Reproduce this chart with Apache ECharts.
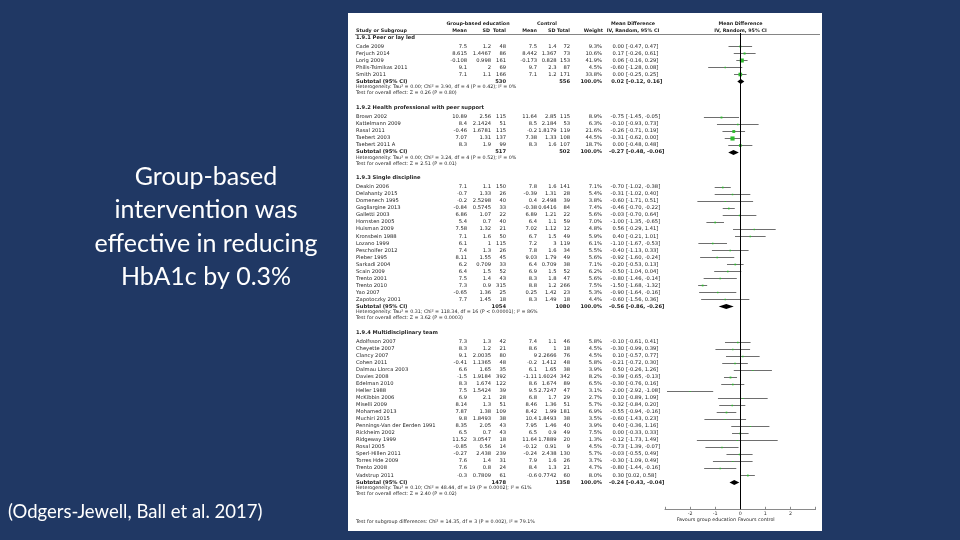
<!DOCTYPE html>
<html>
<head>
<meta charset="utf-8">
<script src="https://cdn.jsdelivr.net/npm/echarts/dist/echarts.min.js"></script>
<style>
html,body{margin:0;padding:0;background:#203864;}
#chart{width:960px;height:540px;}
</style>
</head>
<body>
<div id="chart"></div>
<script>
// ---------------- DATA ----------------
const groupTitles = [
  '1.9.1 Peer or lay led',
  '1.9.2 Health professional with peer support',
  '1.9.3 Single discipline',
  '1.9.4 Multidisciplinary team'
];
// columns: group mean, group SD, group total, control mean, control SD, control total, weight %, MD, CI low, CI high
const studies1 = ['Cade 2009', 'Ferjuch 2014', 'Lorig 2009', 'Philis-Tsimikas 2011', 'Smith 2011'];
const values1 = [
  [7.5, 1.2, 48, 7.5, 1.4, 72, 9.3, 0.00, -0.47, 0.47],
  [8.615, 1.4467, 86, 8.442, 1.367, 73, 10.6, 0.17, -0.26, 0.61],
  [-0.108, 0.998, 161, -0.173, 0.828, 153, 41.9, 0.06, -0.16, 0.29],
  [9.1, 2, 69, 9.7, 2.3, 87, 4.5, -0.60, -1.28, 0.08],
  [7.1, 1.1, 166, 7.1, 1.2, 171, 33.8, 0.00, -0.25, 0.25]
];
const studies2 = ['Brown 2002', 'Kattelmann 2009', 'Rasal 2011', 'Taebert 2003', 'Taebert 2011 A'];
const values2 = [
  [10.89, 2.56, 115, 11.64, 2.85, 115, 8.9, -0.75, -1.45, -0.05],
  [8.4, 2.1424, 51, 8.5, 2.184, 53, 6.3, -0.10, -0.93, 0.73],
  [-0.46, 1.6781, 115, -0.2, 1.8179, 119, 21.6, -0.26, -0.71, 0.19],
  [7.07, 1.31, 137, 7.38, 1.33, 108, 44.5, -0.31, -0.62, 0.00],
  [8.3, 1.9, 99, 8.3, 1.6, 107, 18.7, 0.00, -0.48, 0.48]
];
const studies3 = ['Deakin 2006', 'Delahanty 2015', 'Domenech 1995', 'Gagliargine 2013', 'Galletti 2003',
  'Hornsten 2005', 'Huisman 2009', 'Kronsbein 1988', 'Lozano 1999', 'Peschoifer 2012', 'Pieber 1995',
  'Sarkadi 2004', 'Scain 2009', 'Trento 2001', 'Trento 2010', 'Yao 2007', 'Zapotoczky 2001'];
const values3 = [
  [7.1, 1.1, 150, 7.8, 1.6, 141, 7.1, -0.70, -1.02, -0.38],
  [-0.7, 1.33, 26, -0.39, 1.31, 28, 5.4, -0.31, -1.02, 0.40],
  [-0.2, 2.5298, 40, 0.4, 2.498, 39, 3.8, -0.60, -1.71, 0.51],
  [-0.84, 0.5745, 33, -0.38, 0.6416, 84, 7.4, -0.46, -0.70, -0.22],
  [6.86, 1.07, 22, 6.89, 1.21, 22, 5.6, -0.03, -0.70, 0.64],
  [5.4, 0.7, 40, 6.4, 1.1, 59, 7.0, -1.00, -1.35, -0.65],
  [7.58, 1.32, 21, 7.02, 1.12, 12, 4.8, 0.56, -0.29, 1.41],
  [7.1, 1.6, 50, 6.7, 1.5, 49, 5.9, 0.40, -0.21, 1.01],
  [6.1, 1, 115, 7.2, 3, 119, 6.1, -1.10, -1.67, -0.53],
  [7.4, 1.3, 26, 7.8, 1.6, 34, 5.5, -0.40, -1.13, 0.33],
  [8.11, 1.55, 45, 9.03, 1.79, 49, 5.6, -0.92, -1.60, -0.24],
  [6.2, 0.709, 33, 6.4, 0.709, 38, 7.1, -0.20, -0.53, 0.13],
  [6.4, 1.5, 52, 6.9, 1.5, 52, 6.2, -0.50, -1.04, 0.04],
  [7.5, 1.4, 43, 8.3, 1.8, 47, 5.6, -0.80, -1.46, -0.14],
  [7.3, 0.9, 315, 8.8, 1.2, 266, 7.5, -1.50, -1.68, -1.32],
  [-0.65, 1.36, 25, 0.25, 1.42, 23, 5.3, -0.90, -1.64, -0.16],
  [7.7, 1.45, 18, 8.3, 1.49, 18, 4.4, -0.60, -1.56, 0.36]
];
const studies4 = ['Adolfsson 2007', 'Cheyette 2007', 'Clancy 2007', 'Cohen 2011', 'Dalmau Llorca 2003',
  'Davies 2008', 'Edelman 2010', 'Heller 1988', 'McKibbin 2006', 'Miselli 2009', 'Mohamed 2013',
  'Muchiri 2015', 'Pennings-Van der Eerden 1991', 'Rickheim 2002', 'Ridgeway 1999', 'Rosal 2005',
  'Sperl-Hillen 2011', 'Torres Hde 2009', 'Trento 2008', 'Vadstrup 2011'];
const values4 = [
  [7.3, 1.3, 42, 7.4, 1.1, 46, 5.8, -0.10, -0.61, 0.41],
  [8.3, 1.2, 21, 8.6, 1, 18, 4.5, -0.30, -0.99, 0.39],
  [9.1, 2.0035, 80, 9, 2.2666, 76, 4.5, 0.10, -0.57, 0.77],
  [-0.41, 1.1365, 48, -0.2, 1.412, 48, 5.8, -0.21, -0.72, 0.30],
  [6.6, 1.65, 35, 6.1, 1.65, 38, 3.9, 0.50, -0.26, 1.26],
  [-1.5, 1.9184, 392, -1.11, 1.6024, 342, 8.2, -0.39, -0.65, -0.13],
  [8.3, 1.674, 122, 8.6, 1.674, 89, 6.5, -0.30, -0.76, 0.16],
  [7.5, 1.5424, 39, 9.5, 2.7247, 47, 3.1, -2.00, -2.92, -1.08],
  [6.9, 2.1, 28, 6.8, 1.7, 29, 2.7, 0.10, -0.89, 1.09],
  [8.14, 1.3, 51, 8.46, 1.36, 51, 5.7, -0.32, -0.84, 0.20],
  [7.87, 1.38, 109, 8.42, 1.99, 181, 6.9, -0.55, -0.94, -0.16],
  [9.8, 1.8493, 38, 10.4, 1.8493, 38, 3.5, -0.60, -1.43, 0.23],
  [8.35, 2.05, 43, 7.95, 1.46, 40, 3.9, 0.40, -0.36, 1.16],
  [6.5, 0.7, 43, 6.5, 0.9, 49, 7.5, 0.00, -0.33, 0.33],
  [11.52, 3.0547, 18, 11.64, 1.7889, 20, 1.3, -0.12, -1.73, 1.49],
  [-0.85, 0.56, 14, -0.12, 0.91, 9, 4.5, -0.73, -1.39, -0.07],
  [-0.27, 2.438, 239, -0.24, 2.438, 130, 5.7, -0.03, -0.55, 0.49],
  [7.6, 1.4, 31, 7.9, 1.6, 26, 3.7, -0.30, -1.09, 0.49],
  [7.6, 0.8, 24, 8.4, 1.3, 21, 4.7, -0.80, -1.44, -0.16],
  [-0.3, 0.7809, 61, -0.6, 0.7742, 60, 8.0, 0.30, 0.02, 0.58]
];
// subtotal: group total, control total, weight %, MD, CI low, CI high
const subtotals = [
  [530, 556, 100.0, 0.02, -0.12, 0.16],
  [517, 502, 100.0, -0.27, -0.48, -0.06],
  [1054, 1080, 100.0, -0.56, -0.86, -0.26],
  [1478, 1358, 100.0, -0.24, -0.43, -0.04]
];
const heterogeneity = [
  'Heterogeneity: Tau² = 0.00; Chi² = 3.90, df = 4 (P = 0.42); I² = 0%',
  'Heterogeneity: Tau² = 0.00; Chi² = 3.24, df = 4 (P = 0.52); I² = 0%',
  'Heterogeneity: Tau² = 0.31; Chi² = 118.34, df = 16 (P < 0.00001); I² = 86%',
  'Heterogeneity: Tau² = 0.10; Chi² = 48.44, df = 19 (P = 0.0002); I² = 61%'
];
const overallEffect = [
  'Test for overall effect: Z = 0.26 (P = 0.80)',
  'Test for overall effect: Z = 2.51 (P = 0.01)',
  'Test for overall effect: Z = 3.62 (P = 0.0003)',
  'Test for overall effect: Z = 2.40 (P = 0.02)'
];
const subgroupDifferences = 'Test for subgroup differences: Chi² = 14.35, df = 3 (P = 0.002), I² = 79.1%';
const headerGroups = ['Group-based education', 'Control', 'Mean Difference', 'Mean Difference'];
const headerColumns = ['Study or Subgroup', 'Mean', 'SD', 'Total', 'Mean', 'SD', 'Total', 'Weight', 'IV, Random, 95% CI', 'IV, Random, 95% CI'];
const favoursLabels = ['Favours group education', 'Favours control'];
const titleLines = ['Group-based', 'intervention was', 'effective in reducing', 'HbA1c by 0.3%'];
const citation = '(Odgers-Jewell, Ball et al. 2017)';

// ---------------- LAYOUT ----------------
const ROW0_Y = 37.2, PITCH = 7.03;          // pixel centre of row 0 and row pitch
// row steps (in rows) between consecutive lines of a subgroup block
const STEP = {firstStudy: 1.3, study: 1, subtotal: 1, het: 0.8, test: 0.85, nextHeader: 2.05, subgroupTest: 4.0};
const PANEL = {left: 348, top: 13, width: 474, height: 518};
const PLOT = {zero: 740.3, unit: 25.1, top: 33, bottom: 509.3};
const COL = {name: 356, gMean: 467, gSD: 491, gN: 506, cMean: 537, cSD: 556.5, cN: 570, wt: 602, est: 624, ci: 626,
             gHead: 478, cHead: 547, mdHead: 633, plotHead: 740.5, lineEnd: 820};
const FONT = 'DejaVu Sans';
const FS = 5.2, FS_HEAD = 4.8, FS_NOTE = 4.8;
const TXT_COLOR = '#1e1e1e';
const rowAt = y => (y - ROW0_Y) / PITCH;

// ---------------- BUILD ROWS ----------------
const tableRows = [{r: -1.95, kind: 'head1'}, {r: -0.95, kind: 'head2'}];
const forestData = [];
let r = 0;
[[studies1, values1], [studies2, values2], [studies3, values3], [studies4, values4]].forEach(([names, vals], g) => {
  tableRows.push({r, kind: 'group', text: groupTitles[g]});
  r += STEP.firstStudy;
  names.forEach((nm, i) => {
    const v = vals[i];
    if (i > 0) r += STEP.study;
    tableRows.push({r, kind: 'study', name: nm, v});
    forestData.push([v[7], v[8], v[9], r, v[6], 0]);
  });
  const s = subtotals[g];
  r += STEP.subtotal;
  tableRows.push({r, kind: 'subtotal', v: s});
  forestData.push([s[3], s[4], s[5], r, s[2], 1]);
  r += STEP.het;
  tableRows.push({r, kind: 'note', text: heterogeneity[g]});
  r += STEP.test;
  tableRows.push({r, kind: 'note', text: overallEffect[g]});
  if (g < 3) r += STEP.nextHeader;
});
tableRows.push({r: r + STEP.subgroupTest, kind: 'note', text: subgroupDifferences});

const fmt = v => String(v);
const ci = (lo, hi) => '[' + lo.toFixed(2) + ', ' + hi.toFixed(2) + ']';

function txt(s, x, y, align, bold, size) {
  return {type: 'text', style: {text: s, x: x, y: y, align: align, verticalAlign: 'middle',
    textAlign: align, textVerticalAlign: 'middle', fill: TXT_COLOR, fontFamily: FONT,
    fontSize: size || FS, fontWeight: bold ? 'bold' : 'normal'}};
}

function renderTable(params, api) {
  const row = tableRows[api.value(2)];
  const y = api.coord([0, api.value(1)])[1];
  const c = [];
  if (row.kind === 'head1') {
    c.push(txt(headerGroups[0], COL.gHead, y, 'center', true, FS_HEAD));
    c.push(txt(headerGroups[1], COL.cHead, y, 'center', true, FS_HEAD));
    c.push(txt(headerGroups[2], COL.mdHead, y, 'center', true, FS_HEAD));
    c.push(txt(headerGroups[3], COL.plotHead, y, 'center', true, FS_HEAD));
  } else if (row.kind === 'head2') {
    const xs = [COL.name, COL.gMean, COL.gSD - 1, COL.gN, COL.cMean, COL.cSD - 1, COL.cN, COL.wt + 1, COL.mdHead, COL.plotHead];
    const al = ['left', 'right', 'right', 'right', 'right', 'right', 'right', 'right', 'center', 'center'];
    headerColumns.forEach((h, i) => c.push(txt(h, xs[i], y, al[i], true, FS_HEAD)));
    const ly = Math.round(y + 3.2) + 0.5;
    c.push({type: 'line', shape: {x1: COL.name - 1, y1: ly, x2: COL.lineEnd, y2: ly}, style: {stroke: '#666', lineWidth: 0.8}});
  } else if (row.kind === 'group') {
    c.push(txt(row.text, COL.name, y, 'left', true));
  } else if (row.kind === 'study') {
    const v = row.v;
    c.push(txt(row.name, COL.name, y, 'left'));
    c.push(txt(fmt(v[0]), COL.gMean, y, 'right'));
    c.push(txt(fmt(v[1]), COL.gSD, y, 'right'));
    c.push(txt(fmt(v[2]), COL.gN, y, 'right'));
    c.push(txt(fmt(v[3]), COL.cMean, y, 'right'));
    c.push(txt(fmt(v[4]), COL.cSD, y, 'right'));
    c.push(txt(fmt(v[5]), COL.cN, y, 'right'));
    c.push(txt(v[6].toFixed(1) + '%', COL.wt, y, 'right'));
    c.push(txt(v[7].toFixed(2), COL.est, y, 'right'));
    c.push(txt(ci(v[8], v[9]), COL.ci, y, 'left'));
  } else if (row.kind === 'subtotal') {
    const v = row.v;
    c.push(txt('Subtotal (95% CI)', COL.name, y, 'left', true));
    c.push(txt(fmt(v[0]), COL.gN, y, 'right', true));
    c.push(txt(fmt(v[1]), COL.cN, y, 'right', true));
    c.push(txt(v[2].toFixed(1) + '%', COL.wt, y, 'right', true));
    c.push(txt(v[3].toFixed(2), COL.est, y, 'right', true));
    c.push(txt(ci(v[4], v[5]), COL.ci, y, 'left', true));
  } else if (row.kind === 'note') {
    c.push(txt(row.text, COL.name, y, 'left', false, FS_NOTE));
  }
  return {type: 'group', children: c};
}

function renderForest(params, api) {
  const md = api.value(0), lo = api.value(1), hi = api.value(2), rr = api.value(3), w = api.value(4), sub = api.value(5);
  const p = api.coord([md, rr]);
  const y = Math.round(p[1]) + 0.5;
  const x0 = api.coord([lo, rr])[0], x1 = api.coord([hi, rr])[0];
  if (sub) {
    return {type: 'polygon', shape: {points: [[x0, y], [p[0], y - 2.6], [x1, y], [p[0], y + 2.6]]},
      style: {fill: '#000'}};
  }
  const s = Math.max(1.2, 0.62 * Math.sqrt(w));
  return {type: 'group', children: [
    {type: 'line', shape: {x1: x0, y1: y, x2: x1, y2: y}, style: {stroke: '#6e6e6e', lineWidth: 1}},
    {type: 'rect', shape: {x: p[0] - s / 2, y: y - s / 2, width: s, height: s}, style: {fill: '#2dbb2d'}}
  ]};
}

const chart = echarts.init(document.getElementById('chart'));
const plotLeft = PLOT.zero - 3 * PLOT.unit;
chart.setOption({
  backgroundColor: '#203864',
  animation: false,
  grid: [
    {left: PANEL.left, top: PANEL.top, width: PANEL.width, height: PANEL.height, show: true,
     backgroundColor: '#ffffff', borderWidth: 0},
    {left: plotLeft, top: PLOT.top, width: 6 * PLOT.unit, height: PLOT.bottom - PLOT.top, show: false}
  ],
  xAxis: [
    {gridIndex: 0, type: 'value', min: 0, max: 1, show: false},
    {gridIndex: 1, type: 'value', min: -3, max: 3, interval: 1, position: 'bottom',
     axisLine: {onZero: false, lineStyle: {color: '#8a8a8a', width: 1}},
     axisTick: {inside: true, length: 2.5, lineStyle: {color: '#8a8a8a'}},
     axisLabel: {margin: 1.5, fontSize: 4.8, color: '#333', fontFamily: FONT,
                 formatter: v => (Math.abs(v) > 2 ? '' : String(v))},
     splitLine: {show: false}}
  ],
  yAxis: [
    {gridIndex: 0, type: 'value', inverse: true, show: false,
     min: rowAt(PANEL.top), max: rowAt(PANEL.top + PANEL.height)},
    {gridIndex: 1, type: 'value', inverse: true, show: false,
     min: rowAt(PLOT.top), max: rowAt(PLOT.bottom)}
  ],
  series: [
    {type: 'custom', xAxisIndex: 0, yAxisIndex: 0, renderItem: renderTable, silent: true,
     data: tableRows.map((row, i) => [0.5, row.r, i]), encode: {x: 0, y: 1}, z: 3},
    {type: 'custom', xAxisIndex: 1, yAxisIndex: 1, renderItem: renderForest, silent: true,
     data: forestData, encode: {x: [0, 1, 2], y: 3}, z: 4,
     markLine: {silent: true, symbol: ['none', 'none'], label: {show: false},
       lineStyle: {color: '#000', width: 1, type: 'solid'}, data: [{xAxis: 0}]}}
  ],
  graphic: [
    {type: 'text', style: {text: titleLines.join('\n'), x: 206, y: 227, align: 'center', verticalAlign: 'middle',
      textAlign: 'center', textVerticalAlign: 'middle', fill: '#ffffff', fontFamily: 'Lato', fontSize: 25, lineHeight: 33.4}},
    {type: 'text', style: {text: citation, x: 8, y: 512, align: 'left', verticalAlign: 'middle',
      textAlign: 'left', textVerticalAlign: 'middle', fill: '#ffffff', fontFamily: 'Lato', fontSize: 18.5}},
    {type: 'text', z: 10, style: {text: favoursLabels[0], x: 736, y: 520, align: 'right', verticalAlign: 'middle',
      textAlign: 'right', textVerticalAlign: 'middle', fill: '#222', fontFamily: FONT, fontSize: 4.8}},
    {type: 'text', z: 10, style: {text: favoursLabels[1], x: 738, y: 520, align: 'left', verticalAlign: 'middle',
      textAlign: 'left', textVerticalAlign: 'middle', fill: '#222', fontFamily: FONT, fontSize: 4.8}}
  ]
});
</script>
</body>
</html>
